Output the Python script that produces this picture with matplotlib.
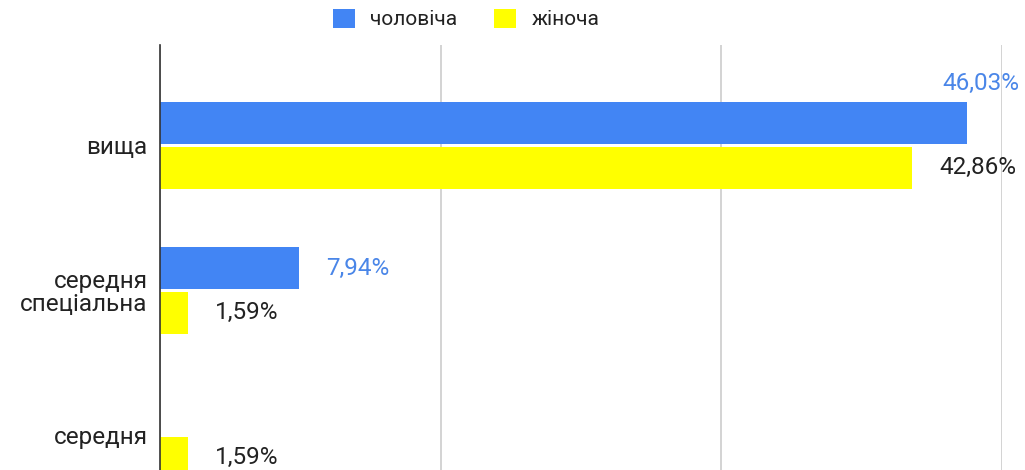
import matplotlib
matplotlib.use("Agg")
import matplotlib.pyplot as plt
from matplotlib.patches import Patch
import numpy as np

categories = ["вища", "середня\nспеціальна", "середня"]
male = [46.03, 7.94, 0.0]
female = [42.86, 1.59, 1.59]
series_names = ["чоловіча", "жіноча"]
colors = ["#4285F4", "#FFFF00"]
label_colors = ["#4A86E8", "#222222"]
grid_ticks = [0, 16, 32, 48]

plt.rcParams['font.family'] = ['Roboto', 'DejaVu Sans']

W, H = 1025, 470
fig = plt.figure(figsize=(W / 100, H / 100), dpi=100)
ylim = (-0.693, 2.693)
px_per_cat = 145
ax_h = (ylim[1] - ylim[0]) * px_per_cat
left, right, top = 160, 1002, 45
ax = fig.add_axes([left / W, (H - top - ax_h) / H, (right - left) / W, ax_h / H])

y = np.arange(len(categories))
bh = 0.29
off = 0.155
ax.barh(y - off, male, height=bh, color=colors[0], zorder=3)
ax.barh(y + off, female, height=bh, color=colors[1], zorder=3)

ax.set_xlim(0, 48)
ax.set_ylim(ylim[1], ylim[0])
ax.set_xticks(grid_ticks)
ax.tick_params(axis='x', length=0, labelbottom=False)
ax.tick_params(axis='y', length=0, pad=9)
ax.set_yticks(y)
ax.set_yticklabels(categories, fontsize=17.5, color="#222222", linespacing=1.0)
ax.xaxis.grid(True, color="#CCCCCC", linewidth=1.2, zorder=0)
for s in ["top", "right", "bottom"]:
    ax.spines[s].set_visible(False)
ax.spines["left"].set_color("#333333")
ax.spines["left"].set_linewidth(1.2)
ax.spines["left"].set_zorder(4)

def fmt(v):
    return f"{v:.2f}".replace(".", ",") + "%"

gap = 1.55
for vals, yo, c in [(male, -off, label_colors[0]), (female, off, label_colors[1])]:
    for i, v in enumerate(vals):
        if v <= 0:
            continue
        if v + gap + 5 > 49.5:
            ax.text(49.0, i + yo - 0.272, fmt(v), ha="right", va="center",
                    fontsize=17.5, color=c, clip_on=False)
        else:
            ax.text(v + gap, i + yo, fmt(v), ha="left", va="center",
                    fontsize=17.5, color=c, clip_on=False)

handles = [Patch(facecolor=colors[0], edgecolor='none'), Patch(facecolor=colors[1], edgecolor='none')]
fig.legend(handles, series_names, loc="center left", bbox_to_anchor=(314 / W, 1 - 19 / H),
           ncol=2, frameon=False, fontsize=15, handlelength=1.05, handleheight=1.05,
           handletextpad=0.75, columnspacing=1.75, labelcolor="#222222")

fig.savefig("out.png", dpi=100)
